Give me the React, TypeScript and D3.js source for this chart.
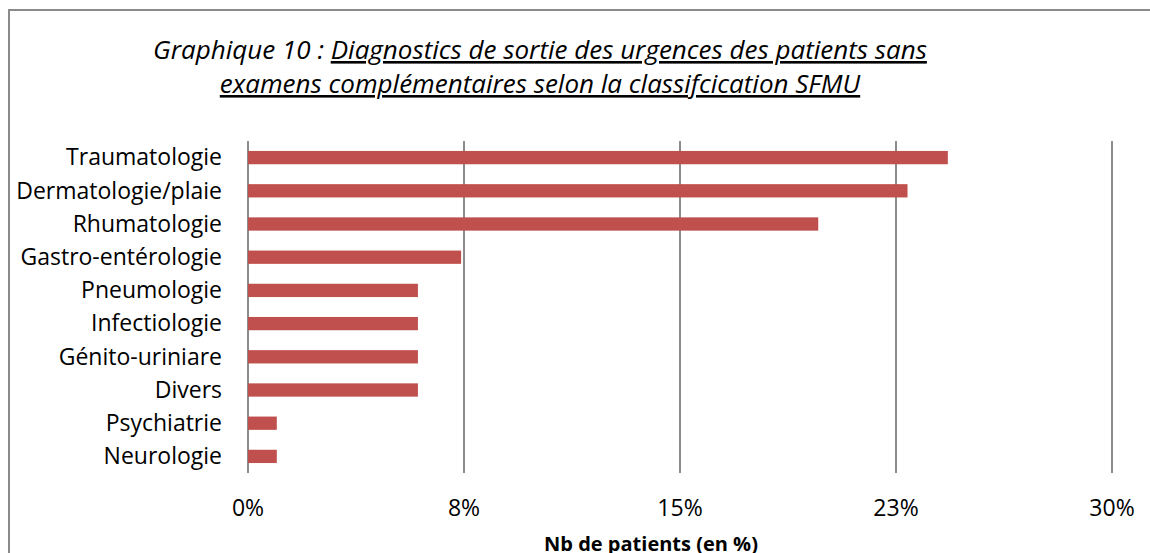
import { useEffect, useRef } from "react";
import * as d3 from "d3";

const categories = [
  "Traumatologie",
  "Dermatologie/plaie",
  "Rhumatologie",
  "Gastro-entérologie",
  "Pneumologie",
  "Infectiologie",
  "Génito-uriniare",
  "Divers",
  "Psychiatrie",
  "Neurologie",
];
const values = [24.3, 22.9, 19.8, 7.4, 5.9, 5.9, 5.9, 5.9, 1.0, 1.0];
const ticks = [0, 7.5, 15, 22.5, 30];
const tickLabels = ["0%", "8%", "15%", "23%", "30%"];

export default function App() {
  const width = 1150;
  const height = 553;
  const marginTop = 141;
  const marginBottom = 80;
  const marginLeft = 248;
  const marginRight = 38;
  const ref = useRef<SVGSVGElement>(null);

  useEffect(() => {
    const svg = d3.select(ref.current);
    svg.selectAll("*").remove();
    const font = "'Open Sans', sans-serif";

    // outer frame
    svg
      .append("rect")
      .attr("x", 9)
      .attr("y", 10)
      .attr("width", 1200)
      .attr("height", 600)
      .attr("fill", "white")
      .attr("stroke", "#8a8a8a")
      .attr("stroke-width", 2);

    const xScale = d3
      .scaleLinear()
      .domain([0, 30])
      .range([marginLeft, width - marginRight]);

    const yScale = d3
      .scaleBand()
      .domain(categories)
      .range([marginTop, height - marginBottom])
      .paddingInner(0.6)
      .paddingOuter(0.3);

    // vertical gridlines
    svg
      .append("g")
      .selectAll("line")
      .data(ticks)
      .enter()
      .append("line")
      .attr("x1", (d) => xScale(d))
      .attr("x2", (d) => xScale(d))
      .attr("y1", marginTop)
      .attr("y2", height - marginBottom)
      .attr("stroke", "#8c8c8c")
      .attr("stroke-width", 2);

    // x tick labels
    svg
      .append("g")
      .selectAll("text")
      .data(ticks)
      .enter()
      .append("text")
      .attr("x", (d) => xScale(d))
      .attr("y", 516)
      .attr("text-anchor", "middle")
      .attr("font-family", font)
      .attr("font-size", 23)
      .attr("fill", "#000")
      .text((d, i) => tickLabels[i]);

    // bars
    svg
      .append("g")
      .selectAll("rect")
      .data(values)
      .enter()
      .append("rect")
      .attr("x", xScale(0))
      .attr("y", (d, i) => yScale(categories[i])!)
      .attr("width", (d) => xScale(d) - xScale(0))
      .attr("height", yScale.bandwidth())
      .attr("fill", "#c0504d");

    // category labels
    svg
      .append("g")
      .selectAll("text")
      .data(categories)
      .enter()
      .append("text")
      .attr("x", 222)
      .attr("y", (d) => yScale(d)! + yScale.bandwidth() / 2)
      .attr("dy", "0.34em")
      .attr("text-anchor", "end")
      .attr("font-family", font)
      .attr("font-size", 23)
      .attr("fill", "#000")
      .text((d) => d);

    // axis title
    svg
      .append("text")
      .attr("x", 651)
      .attr("y", 551)
      .attr("text-anchor", "middle")
      .attr("font-family", font)
      .attr("font-weight", "bold")
      .attr("font-size", 20)
      .text("Nb de patients (en %)");

    // title
    const t1 = svg
      .append("text")
      .attr("x", 540)
      .attr("y", 59)
      .attr("text-anchor", "middle")
      .attr("font-family", font)
      .attr("font-style", "italic")
      .attr("font-size", 26);
    t1.append("tspan").text("Graphique 10 : ");
    t1.append("tspan")
      .attr("text-decoration", "underline")
      .text("Diagnostics de sortie des urgences des patients sans");

    svg
      .append("text")
      .attr("x", 540)
      .attr("y", 93)
      .attr("text-anchor", "middle")
      .attr("font-family", font)
      .attr("font-style", "italic")
      .attr("font-size", 26)
      .attr("text-decoration", "underline")
      .text("examens complémentaires selon la classifcication SFMU");
  }, []);

  return (
    <svg
      ref={ref}
      width={width}
      height={height}
      style={{ position: "absolute", left: 0, top: 0, background: "white" }}
    />
  );
}
